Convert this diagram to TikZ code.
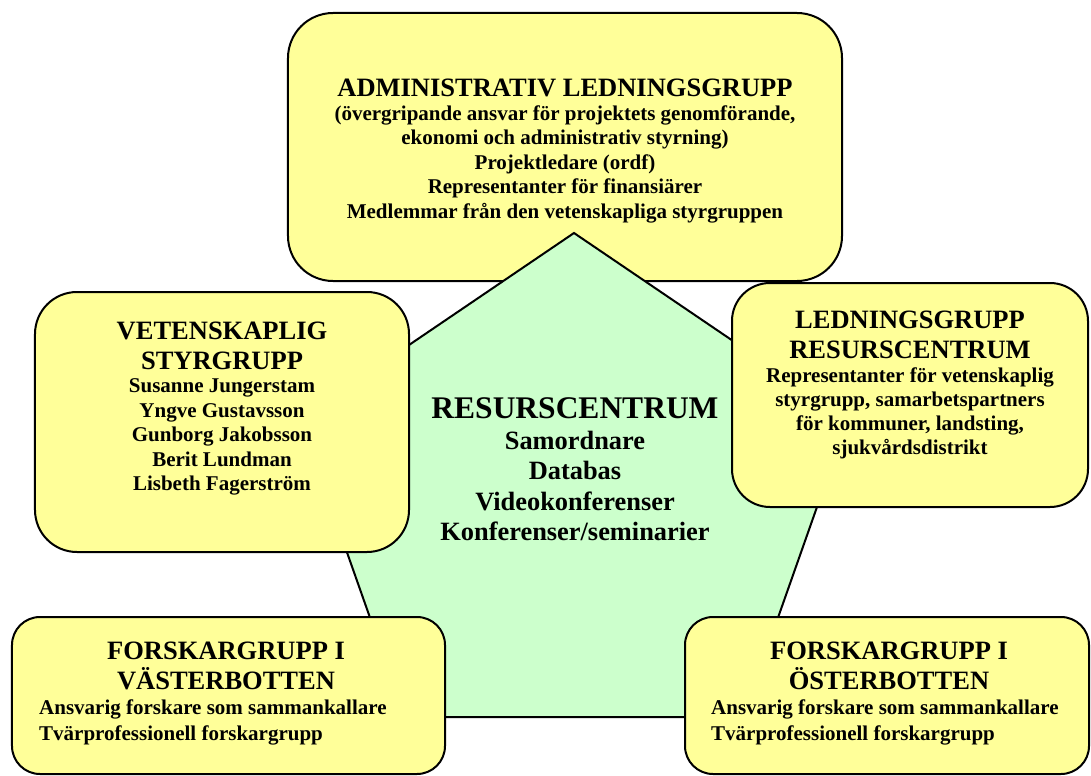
\documentclass[tikz,border=0pt]{standalone}
\usepackage{fontspec}
\setmainfont{Liberation Serif}
\usetikzlibrary{positioning}
\definecolor{groupfill}{RGB}{255,255,153}
\definecolor{centrefill}{RGB}{204,255,204}

\begin{document}
\begin{tikzpicture}[x=1bp, y=-1bp,
    grpbox/.style={draw=black, line width=2bp, fill=groupfill, rectangle, inner sep=0pt},
    head/.style={font=\bfseries\fontsize{26.5bp}{30bp}\selectfont, align=center, inner sep=0pt},
    body/.style={font=\bfseries\fontsize{21bp}{24.5bp}\selectfont, align=center, inner sep=0pt}]
    % Background
    \fill[white] (0,0) rectangle (1091,776);
    \useasboundingbox (0,0) rectangle (1091,776);

    % === Administrativ ledningsgrupp (behind the centre) ===
    \node[grpbox, rounded corners=45bp, minimum width=554bp, minimum height=268bp] (adm) at (565,147) {};
    \node[head] (admT) at (565,88) {ADMINISTRATIV LEDNINGSGRUPP};
    \node[body] (admB) at (565,164) {(övergripande ansvar för projektets genomförande,\\ekonomi och administrativ styrning)\\Projektledare (ordf)\\Representanter för finansiärer\\Medlemmar från den vetenskapliga styrgruppen};

    % === Resurscentrum pentagon ===
    \coordinate (pTop) at (574,233);
    \coordinate (pRight) at (848,419);
    \coordinate (pBotR) at (743,717);
    \coordinate (pBotL) at (405,717);
    \coordinate (pLeft) at (300,419);
    \draw[line width=2bp, fill=centrefill, line join=miter]
        (pTop) -- (pRight) -- (pBotR) -- (pBotL) -- (pLeft) -- cycle;
    \node[head, font=\bfseries\fontsize{31.5bp}{36bp}\selectfont] (rcT) at (575,408) {RESURSCENTRUM};
    \node[body, font=\bfseries\fontsize{26.4bp}{30.2bp}\selectfont] (rcB) at (575,486) {Samordnare\\Databas\\Videokonferenser\\Konferenser/seminarier};

    % === Vetenskaplig styrgrupp ===
    \node[grpbox, rounded corners=42bp, minimum width=374bp, minimum height=260bp] (vs) at (222,422) {};
    \node[head] (vsT) at (222,346) {VETENSKAPLIG\\STYRGRUPP};
    \node[body] (vsB) at (222,437) {Susanne Jungerstam\\Yngve Gustavsson\\Gunborg Jakobsson\\Berit Lundman\\Lisbeth Fagerström};

    % === Ledningsgrupp resurscentrum ===
    \node[grpbox, rounded corners=38bp, minimum width=356bp, minimum height=224bp] (lr) at (910,395) {};
    \node[head] (lrT) at (910,335) {LEDNINGSGRUPP\\RESURSCENTRUM};
    \node[body, font=\bfseries\fontsize{21bp}{24bp}\selectfont] (lrB) at (910,413) {Representanter för vetenskaplig\\styrgrupp, samarbetspartners\\för kommuner, landsting,\\sjukvårdsdistrikt};

    % === Forskargrupp i Västerbotten ===
    \node[grpbox, rounded corners=28bp, minimum width=433bp, minimum height=157bp] (fv) at (228.5,695.5) {};
    \node[head] (fvT) at (226,666) {FORSKARGRUPP I\\VÄSTERBOTTEN};
    \node[body, align=left, anchor=west, font=\bfseries\fontsize{21bp}{26bp}\selectfont] (fvB) at (39,722) {Ansvarig forskare som sammankallare\\Tvärprofessionell forskargrupp};

    % === Forskargrupp i Österbotten ===
    \node[grpbox, rounded corners=28bp, minimum width=404bp, minimum height=157bp] (fo) at (887,695.5) {};
    \node[head] (foT) at (889,666) {FORSKARGRUPP I\\ÖSTERBOTTEN};
    \node[body, align=left, anchor=west, font=\bfseries\fontsize{21bp}{26bp}\selectfont] (foB) at (711,722) {Ansvarig forskare som sammankallare\\Tvärprofessionell forskargrupp};
\end{tikzpicture}
\end{document}
